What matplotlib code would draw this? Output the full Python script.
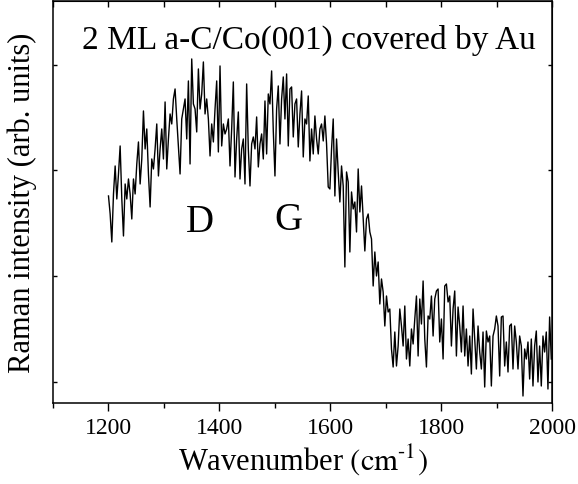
import numpy as np
import matplotlib
matplotlib.use("Agg")
import matplotlib.pyplot as plt
from matplotlib.ticker import MultipleLocator

plt.rcParams["font.family"] = ["Liberation Serif", "DejaVu Serif"]
plt.rcParams["mathtext.fontset"] = "stix"

# Raman spectrum, sampled every 3 cm^-1 from 1200 cm^-1 (arb. units)
wavenumber = np.arange(1200, 2000, 3)

rise = [207, 189, 161, 209, 237, 204, 229, 257, 204, 167, 219, 204, 224, 209, 184,
        224, 209, 239, 261, 219, 244, 292, 254, 274, 229, 196, 244, 234, 254, 279,
        227, 254, 274, 244, 301, 234, 264, 289, 279, 304, 314, 284, 257]
d_band = [229, 284, 294, 304, 264, 322, 239, 344, 299, 294, 271, 334, 294, 309, 341,
          289, 304, 284, 247, 279, 261, 294, 322, 251, 337, 257, 279, 269, 274, 284,
          237, 274, 321, 226, 264, 291, 224, 254, 264, 219, 319, 254, 217, 259, 266]
g_band = [254, 286, 236, 259, 269, 244, 302, 249, 309, 299, 332, 272, 227, 294, 317,
          259, 304, 326, 284, 329, 257, 314, 316, 266, 299, 304, 256, 289, 312, 246,
          284, 279, 307, 242, 274, 249, 287, 264, 249, 274, 279, 262, 287, 259, 216]
edge = [214, 254, 284, 207, 264, 231, 201, 237, 217, 136, 231, 221, 151, 211, 194,
        201, 171, 234, 191, 217, 184, 152, 184, 189, 171, 164, 117, 151, 127, 141,
        99, 124, 111, 77, 107, 91, 94, 54, 36, 71, 37, 57, 94, 77, 57]
bump = [97, 44, 64, 37, 74, 59, 84, 107, 47, 104, 79, 122, 64, 36, 87,
        84, 107, 67, 104, 112, 114, 61, 84, 44, 117, 119, 101, 107, 57, 94,
        112, 47, 96, 77, 51, 97, 47, 74, 37, 67, 29, 94, 64, 34, 77]
tail = [51, 34, 71, 16, 72, 61, 67, 17, 67, 74, 87, 77, 27, 86, 87,
        37, 61, 31, 77, 79, 34, 77, 61, 34, 67, 57, 7, 54, 44, 61,
        24, 64, 17, 57, 72, 21, 57, 17, 67, 51, 71, 14, 86, 44]
intensity = np.array(rise + d_band + g_band + edge + bump + tail, dtype=float)

fig = plt.figure(figsize=(5.78, 4.85), dpi=100)
ax = fig.add_axes([0.0917, 0.167, 0.864, 0.829])
ax.plot(wavenumber, intensity, color="black", lw=1.0)

ax.set_xlim(1100, 2000)
ax.set_ylim(0, 402)
ax.xaxis.set_major_locator(MultipleLocator(200))
ax.xaxis.set_minor_locator(MultipleLocator(100))
ax.set_yticks([21, 127, 233, 338])
ax.set_yticklabels([])
ax.tick_params(axis="x", which="major", direction="out", length=6, width=1,
               labelsize=17, pad=4)
ax.tick_params(axis="x", which="minor", direction="out", length=3.5, width=1)
ax.tick_params(axis="y", direction="in", length=3, width=1)
for s in ax.spines.values():
    s.set_linewidth(1.1)

top = ax.secondary_xaxis("top")
top.xaxis.set_major_locator(MultipleLocator(200))
top.xaxis.set_minor_locator(MultipleLocator(100))
top.tick_params(which="both", direction="in", length=4.5, width=1, labeltop=False)
right = ax.secondary_yaxis("right")
right.set_yticks([21, 127, 233, 338])
right.tick_params(direction="in", length=3, width=1, labelright=False)

ax.set_xlabel(r"Wavenumber $\left(\mathrm{cm}^{\text{-1}}\right)$", fontsize=22, labelpad=2)
ax.set_ylabel("Raman intensity (arb. units)", fontsize=22, labelpad=8)

ax.text(1561, 364, "2 ML a-C/Co(001) covered by Au", fontsize=24,
        ha="center", va="center")
ax.text(1365, 181, "D", fontsize=28, ha="center", va="center")
ax.text(1525, 183, "G", fontsize=28, ha="center", va="center")

fig.savefig("out.png", dpi=100)
